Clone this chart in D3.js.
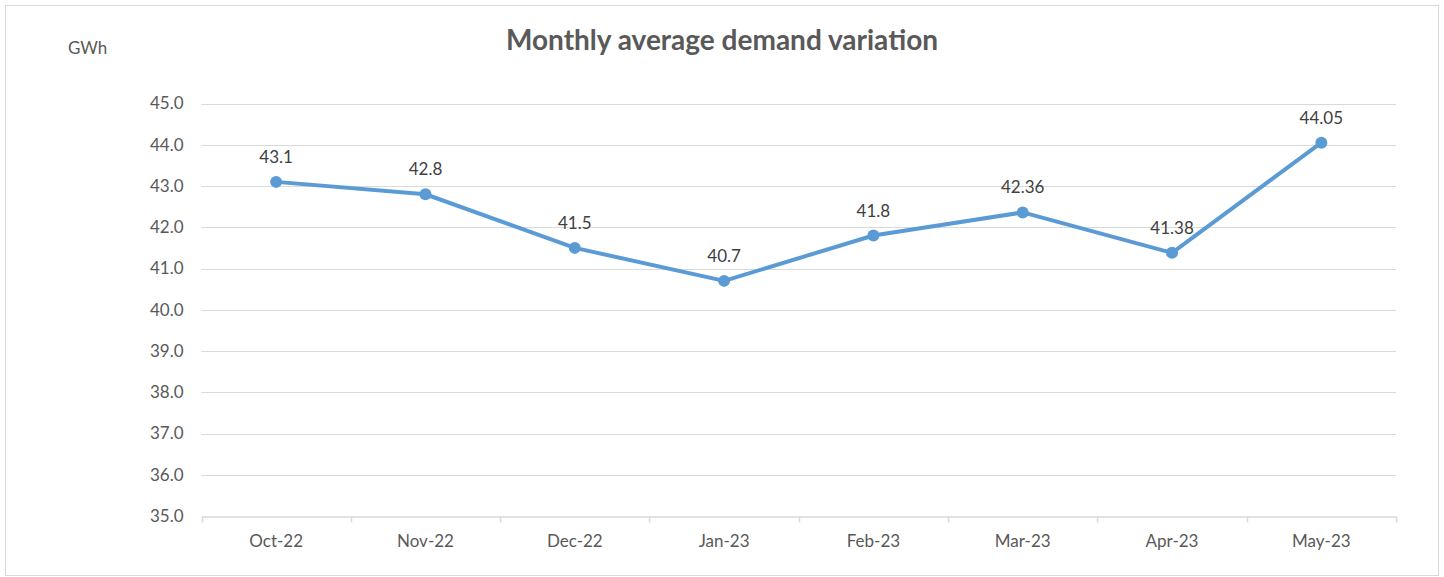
<!DOCTYPE html>
<html>
<head>
<meta charset="utf-8">
<script src="https://cdn.jsdelivr.net/npm/d3@7"></script>
<style>
  html, body { margin: 0; padding: 0; background: #fff; }
  svg { display: block; }
</style>
</head>
<body>
<svg id="chart" width="1444" height="577"></svg>
<script>
const categories = ["Oct-22", "Nov-22", "Dec-22", "Jan-23", "Feb-23", "Mar-23", "Apr-23", "May-23"];
const demandValues = [43.1, 42.8, 41.5, 40.7, 41.8, 42.36, 41.38, 44.05];
const dataLabels = ["43.1", "42.8", "41.5", "40.7", "41.8", "42.36", "41.38", "44.05"];
const yTicks = [35, 36, 37, 38, 39, 40, 41, 42, 43, 44, 45];
const titleText = "Monthly average demand variation";
const unitText = "GWh";

const svg = d3.select("#chart");
const font = "Lato, 'Open Sans', sans-serif";
const plot = { left: 201.5, right: 1396, top: 103.5, bottom: 516 };

// outer border
svg.append("rect")
  .attr("x", 5.5).attr("y", 5.5)
  .attr("width", 1433).attr("height", 570)
  .attr("fill", "#fff").attr("stroke", "#d9d9d9").attr("stroke-width", 1);

const x = d3.scaleBand().domain(categories).range([plot.left, plot.right]).paddingInner(0).paddingOuter(0);
const y = d3.scaleLinear().domain([35, 45]).range([plot.bottom, plot.top]);

// gridlines
svg.append("g")
  .selectAll("line")
  .data(yTicks.filter(t => t !== 35))
  .join("line")
  .attr("x1", plot.left).attr("x2", plot.right)
  .attr("y1", d => Math.round(y(d)) + 0.5).attr("y2", d => Math.round(y(d)) + 0.5)
  .attr("stroke", "#d9d9d9").attr("stroke-width", 1);

// y axis labels
const yAxis = d3.axisLeft(y).tickValues(yTicks).tickFormat(d3.format(".1f")).tickSize(0).tickPadding(18);
const yg = svg.append("g").attr("transform", `translate(${plot.left},0)`).call(yAxis);
yg.select(".domain").remove();
yg.selectAll("text").attr("font-family", font).attr("font-size", 17).attr("fill", "#595959");

// x axis
const xAxis = d3.axisBottom(x).tickSize(0).tickPadding(18);
const xg = svg.append("g").attr("transform", `translate(0,${Math.round(plot.bottom) + 0.5})`).call(xAxis);
xg.select(".domain").attr("stroke", "#d9d9d9").attr("stroke-width", 1.5);
xg.selectAll("text").attr("font-family", font).attr("font-size", 17).attr("fill", "#595959");
// tick marks at band boundaries
const boundaries = categories.map(c => x(c)).concat([x(categories[categories.length - 1]) + x.bandwidth()]);
xg.append("g").selectAll("line")
  .data(boundaries)
  .join("line")
  .attr("x1", d => Math.round(d) + 0.5).attr("x2", d => Math.round(d) + 0.5)
  .attr("y1", 0).attr("y2", 6)
  .attr("stroke", "#d9d9d9").attr("stroke-width", 1.5);

// line
const cx = (d, i) => x(categories[i]) + x.bandwidth() / 2;
const line = d3.line().x((d, i) => cx(d, i)).y(d => y(d));
svg.append("path")
  .datum(demandValues)
  .attr("d", line)
  .attr("fill", "none")
  .attr("stroke", "#5b9bd5")
  .attr("stroke-width", 4)
  .attr("stroke-linejoin", "round")
  .attr("stroke-linecap", "round");

svg.append("g").selectAll("circle")
  .data(demandValues)
  .join("circle")
  .attr("cx", (d, i) => cx(d, i))
  .attr("cy", d => y(d))
  .attr("r", 6)
  .attr("fill", "#5b9bd5");

// data labels
svg.append("g").selectAll("text")
  .data(demandValues)
  .join("text")
  .attr("x", (d, i) => cx(d, i))
  .attr("y", d => y(d) - 19)
  .attr("text-anchor", "middle")
  .attr("font-family", font)
  .attr("font-size", 17)
  .attr("fill", "#404040")
  .text((d, i) => dataLabels[i]);

// title
svg.append("text")
  .attr("x", 722).attr("y", 50)
  .attr("text-anchor", "middle")
  .attr("font-family", font)
  .attr("font-weight", "bold")
  .attr("font-size", 28)
  .attr("fill", "#595959")
  .text(titleText);

// unit label
svg.append("text")
  .attr("x", 68).attr("y", 54)
  .attr("font-family", font)
  .attr("font-size", 17)
  .attr("fill", "#595959")
  .text(unitText);
</script>
</body>
</html>
